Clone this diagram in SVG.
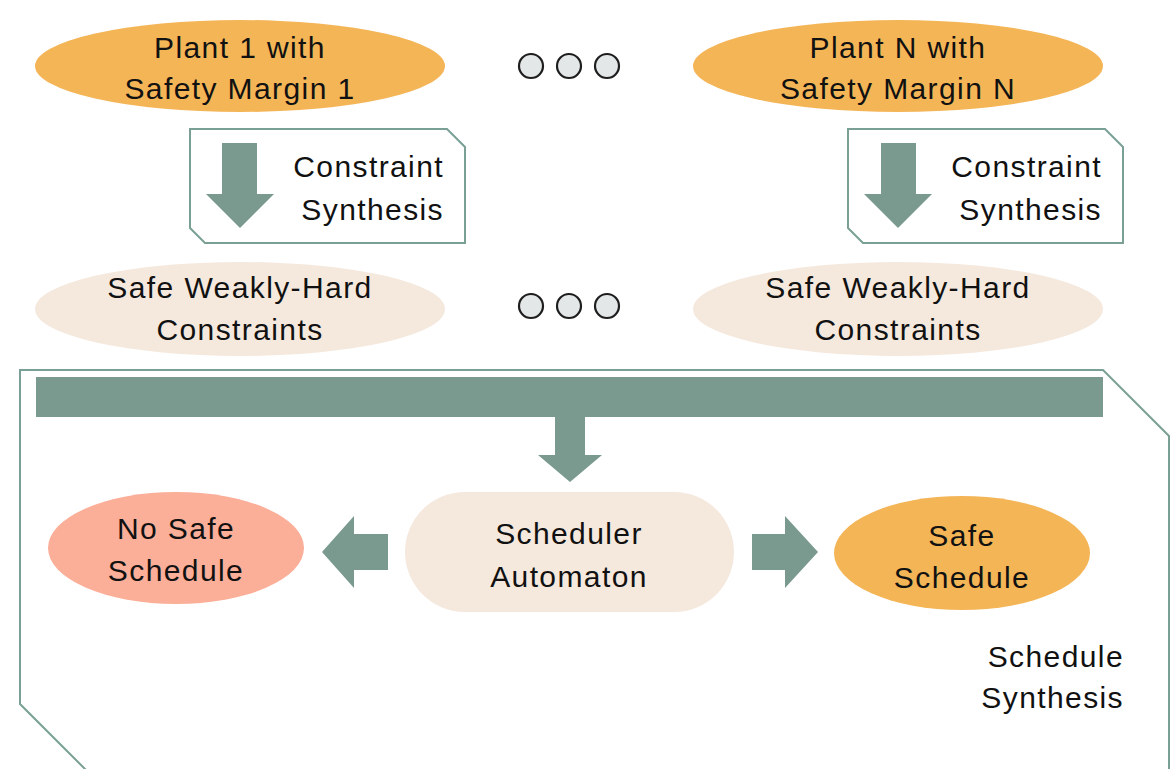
<svg xmlns="http://www.w3.org/2000/svg" width="1173" height="769" viewBox="0 0 1173 769">
  <style>
    text { font-family: "Liberation Sans", Arial, sans-serif; font-size: 30px; fill: #111; letter-spacing: 1.4px; }
    .mid { text-anchor: middle; }
    .end { text-anchor: end; }
    .plant { fill: #F4B557; }
    .wh { fill: #F5E9DE; }
    .nosafe { fill: #FBAE98; }
    .frame { fill: #FFFFFF; stroke: #7AA095; stroke-width: 2; }
    .arrow { fill: #7A9A8F; }
    .dot { fill: #E4E7E8; stroke: #1E1E1E; stroke-width: 2.2; }
  </style>

  <!-- schedule synthesis frame (drawn first, behind everything in it) -->
  <g id="schedule-synthesis">
    <path class="frame" d="M20,370 H1103 L1169,436 V780 H96 L20,704 Z"/>
    <text class="end" x="1124" y="667">Schedule</text>
    <text class="end" x="1124" y="708">Synthesis</text>
  </g>

  <!-- plants -->
  <g id="plant-1">
    <ellipse class="plant" cx="240" cy="66" rx="205" ry="46"/>
    <text class="mid" x="240" y="58">Plant 1 with</text>
    <text class="mid" x="240" y="99">Safety Margin 1</text>
  </g>
  <g id="plant-n">
    <ellipse class="plant" cx="898" cy="66" rx="205" ry="46"/>
    <text class="mid" x="898" y="58">Plant N with</text>
    <text class="mid" x="898" y="99">Safety Margin N</text>
  </g>

  <g id="dots-top">
    <circle class="dot" cx="531" cy="66" r="12"/>
    <circle class="dot" cx="569" cy="66" r="12"/>
    <circle class="dot" cx="607" cy="66" r="12"/>
  </g>

  <!-- constraint synthesis steps -->
  <g id="constraint-synthesis-1">
    <path class="frame" d="M190,129 H447 L465,147 V243 H205 L190,228 Z"/>
    <text class="end" x="444" y="177">Constraint</text>
    <text class="end" x="444" y="220">Synthesis</text>
  </g>
  <g id="constraint-synthesis-n">
    <path class="frame" d="M848,129 H1105 L1123,147 V243 H863 L848,228 Z"/>
    <text class="end" x="1102" y="177">Constraint</text>
    <text class="end" x="1102" y="220">Synthesis</text>
  </g>

  <!-- weakly-hard constraint sets -->
  <g id="constraints-1">
    <ellipse class="wh" cx="240" cy="309" rx="205" ry="47"/>
    <text class="mid" x="240" y="298">Safe Weakly-Hard</text>
    <text class="mid" x="240" y="340">Constraints</text>
  </g>
  <g id="constraints-n">
    <ellipse class="wh" cx="898" cy="309" rx="205" ry="47"/>
    <text class="mid" x="898" y="298">Safe Weakly-Hard</text>
    <text class="mid" x="898" y="340">Constraints</text>
  </g>

  <g id="dots-bottom">
    <circle class="dot" cx="531" cy="306" r="12"/>
    <circle class="dot" cx="569" cy="306" r="12"/>
    <circle class="dot" cx="607" cy="306" r="12"/>
  </g>

  <!-- scheduling outcomes -->
  <g id="scheduler-automaton">
    <rect class="wh" x="405" y="492" width="329" height="120" rx="60" ry="60"/>
    <text class="mid" x="569" y="544">Scheduler</text>
    <text class="mid" x="569" y="587">Automaton</text>
  </g>
  <g id="no-safe-schedule">
    <ellipse class="nosafe" cx="176" cy="548" rx="128" ry="56"/>
    <text class="mid" x="176" y="539">No Safe</text>
    <text class="mid" x="176" y="581">Schedule</text>
  </g>
  <g id="safe-schedule">
    <ellipse class="plant" cx="962" cy="553" rx="128" ry="57"/>
    <text class="mid" x="962" y="546">Safe</text>
    <text class="mid" x="962" y="588">Schedule</text>
  </g>

  <!-- connectors: block arrows and the merge bar -->
  <g id="connectors">
    <path class="arrow" d="M222,143 H257 V194 H274 L240,228 L206,194 H222 Z"/>
    <path class="arrow" d="M881,143 H916 V194 H932 L898,228 L864,194 H881 Z"/>
    <rect class="arrow" x="36" y="377" width="1067" height="40"/>
    <path class="arrow" d="M555,417 H585 V455 H602 L570,482 L538,455 H555 Z"/>
    <path class="arrow" d="M388,534 V570 H354 V588 L322,552 L354,516 V534 Z"/>
    <path class="arrow" d="M752,534 V570 H785 V588 L818,552 L785,516 V534 Z"/>
  </g>
</svg>
